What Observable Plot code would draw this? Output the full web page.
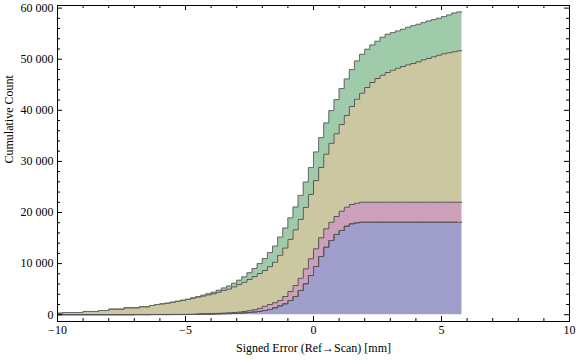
<!DOCTYPE html>
<html><head><meta charset="utf-8">
<script src="https://cdn.jsdelivr.net/npm/d3@7"></script>
<script src="https://cdn.jsdelivr.net/npm/@observablehq/plot@0.6"></script>
<style>html,body{margin:0;padding:0;background:#fff}#chart{width:576px;height:361px}</style>
</head><body><div id="chart"></div>
<script>
// Histogram bins (mm)
const binStart = -10, binWidth = 0.2;
// Stacked cumulative tops for each layer, one value per bin (79 bins, -10 .. 5.8)
const blueTop = [
 0,0,0,0,0,0,0,0,0,0,
 0,0,0,0,0,10,10,10,20,20,
 20,20,30,30,30,40,40,70,90,110,
 130,150,180,210,250,300,360,440,540,660,
 820,1020,1350,1740,2130,2780,3560,4740,6050,7670,
 9430,11390,13210,14520,15700,16480,17320,17790,17980,18100,
 18100,18100,18100,18100,18100,18100,18100,18100,18100,18100,
 18100,18100,18100,18100,18100,18100,18100,18100,18100];
const pinkTop = [
 0,0,0,0,0,0,0,0,0,0,
 0,0,0,0,0,20,20,20,40,40,
 50,50,60,60,70,80,100,160,190,220,
 250,280,320,370,430,520,630,780,970,1250,
 1660,2000,2350,2780,3560,4540,5710,7140,8980,10940,
 12900,15050,16810,18100,19220,20260,21040,21570,21820,22020,
 22020,22020,22020,22020,22020,22020,22020,22020,22020,22020,
 22020,22020,22020,22020,22020,22020,22020,22020,22020];
const tanTop = [
 290,430,430,430,430,630,630,630,820,820,
 1080,1080,1080,1350,1350,1350,1550,1550,1800,1990,
 2120,2240,2420,2600,2790,2990,3220,3440,3650,3880,
 4090,4400,4750,5020,5450,5900,6350,6900,7450,8050,
 8650,9400,10270,11630,13050,14740,16610,18650,21000,23540,
 26240,28810,31420,33540,35400,37220,38980,40740,42170,43350,
 44460,45440,46220,46870,47400,47850,48240,48570,48900,49160,
 49490,49880,50140,50470,50780,51060,51250,51450,51640];
const greenTop = [
 290,430,430,430,430,630,630,630,820,820,
 1080,1080,1080,1350,1350,1350,1550,1550,1800,2000,
 2130,2260,2450,2640,2840,3030,3300,3560,3820,4110,
 4390,4780,5220,5600,6150,6750,7400,8200,9050,10000,
 11000,12150,13420,15180,16950,18940,21060,23350,25950,28790,
 31840,34660,37520,39940,42090,44250,46130,47960,49650,50960,
 51940,52780,53500,54290,54870,55200,55520,55850,56240,56570,
 56830,57160,57480,57750,58010,58340,58650,59040,59240];

const xMajor = [-10, -5, 0, 5, 10];
const xMinor = [-9,-8,-7,-6,-4,-3,-2,-1,1,2,3,4,6,7,8,9];
const yMajor = [0, 10000, 20000, 30000, 40000, 50000, 60000];
const yMinor = [2000,4000,6000,8000,12000,14000,16000,18000,22000,24000,26000,28000,
  32000,34000,36000,38000,42000,44000,46000,48000,52000,54000,56000,58000];

const xTitle = "Signed Error (Ref\u2192Scan) [mm]";
const yTitle = "Cumulative Count";

const colors = {blue: "#a09ecb", pink: "#cc9fbb", tan: "#cbc7a0", green: "#a0cbab"};
const edge = "#555555";

const n = greenTop.length;
const rows = [];
for (let i = 0; i <= n; i++) {
  const k = Math.min(i, n - 1);
  rows.push({x: +(binStart + i * binWidth).toFixed(3), b: blueTop[k], p: pinkTop[k], t: tanTop[k], g: greenTop[k]});
}

const W = 576, H = 361, mL = 57, mR = 7, mT = 5, mB = 40;
const fw = W - mL - mR, fh = H - mT - mB;
const fmtY = d => d === 0 ? "0" : d3.format(",")(d).replace(/,/g, " ");
const fmtX = d => d < 0 ? "\u2212" + Math.abs(d) : String(d);

const chart = Plot.plot({
  width: W, height: H,
  marginLeft: mL, marginRight: mR, marginTop: mT, marginBottom: mB,
  style: {fontFamily: "'Liberation Serif', 'Times New Roman', serif", fontSize: "12px", background: "#fff", color: "#000"},
  x: {domain: [-10, 10], ticks: xMajor, tickSize: 0, tickPadding: 4, tickFormat: fmtX, label: null},
  y: {domain: [-1330, 60510], ticks: yMajor, tickSize: 0, tickPadding: 4, tickFormat: fmtY, label: null},
  marks: [
    Plot.areaY(rows, {x: "x", y1: 0, y2: "b", curve: "step-after", fill: colors.blue}),
    Plot.areaY(rows, {x: "x", y1: "b", y2: "p", curve: "step-after", fill: colors.pink}),
    Plot.areaY(rows, {x: "x", y1: "p", y2: "t", curve: "step-after", fill: colors.tan}),
    Plot.areaY(rows, {x: "x", y1: "t", y2: "g", curve: "step-after", fill: colors.green}),
    Plot.lineY(rows.slice(0, n), {x: "x", y: "b", curve: "step-after", stroke: edge, strokeWidth: 1}),
    Plot.lineY(rows, {x: "x", y: "b", curve: "step-after", stroke: edge, strokeWidth: 1}),
    Plot.lineY(rows, {x: "x", y: "p", curve: "step-after", stroke: edge, strokeWidth: 1}),
    Plot.lineY(rows, {x: "x", y: "t", curve: "step-after", stroke: edge, strokeWidth: 1}),
    Plot.lineY(rows, {x: "x", y: "g", curve: "step-after", stroke: "#6a6a6a", strokeWidth: 1}),
    Plot.frame({stroke: "#000", strokeWidth: 1}),
    // inward ticks: bottom/top
    Plot.ruleX(xMajor, {x: d => d, insetTop: fh - 5, stroke: "#000"}),
    Plot.ruleX(xMinor, {x: d => d, insetTop: fh - 3, stroke: "#000"}),
    Plot.ruleX(xMajor, {x: d => d, insetBottom: fh - 5, stroke: "#000"}),
    Plot.ruleX(xMinor, {x: d => d, insetBottom: fh - 3, stroke: "#000"}),
    // inward ticks: left/right
    Plot.ruleY(yMajor, {y: d => d, insetRight: fw - 5, stroke: "#000"}),
    Plot.ruleY(yMinor, {y: d => d, insetRight: fw - 3, stroke: "#000"}),
    Plot.ruleY(yMajor, {y: d => d, insetLeft: fw - 5, stroke: "#000"}),
    Plot.ruleY(yMinor, {y: d => d, insetLeft: fw - 3, stroke: "#000"}),
    Plot.text([xTitle], {frameAnchor: "bottom", dy: 30, text: d => d, fill: "#000"}),
    Plot.text([yTitle], {frameAnchor: "left", dx: -48, rotate: -90, text: d => d, fill: "#000"})
  ]
});
document.getElementById("chart").appendChild(chart);
</script>
</body></html>
